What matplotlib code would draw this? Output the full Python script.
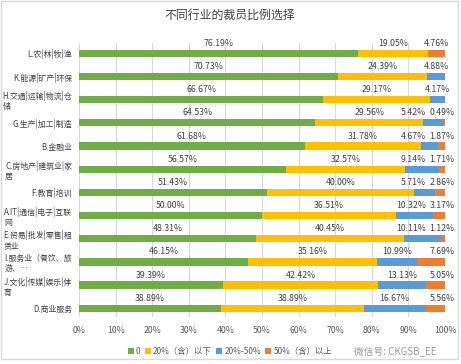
import matplotlib
matplotlib.use("Agg")
import matplotlib.pyplot as plt
from matplotlib.patches import Rectangle
import numpy as np

plt.rcParams['font.family'] = ['Noto Sans CJK SC', 'DejaVu Sans']

categories = ["L.农|林|牧|渔", "K.能源|矿产|环保", "H.交通|运输|物流|仓\n储", "G.生产|加工|制造",
              "B.金融业", "C.房地产|建筑业|家\n居", "F.教育|培训", "A.IT|通信|电子|互联\n网",
              "E.贸易|批发|零售|租\n赁业", "I.服务业（餐饮、旅\n游、…", "J.文化|传媒|娱乐|体\n育",
              "D.商业服务"]
s0 = [76.19, 70.73, 66.67, 64.53, 61.68, 56.57, 51.43, 50.00, 48.31, 46.15, 39.39, 38.89]
s1 = [19.05, 24.39, 29.17, 29.56, 31.78, 32.57, 40.00, 36.51, 40.45, 35.16, 42.42, 38.89]
s2 = [0.00, 4.88, 4.17, 5.42, 4.67, 9.14, 5.71, 10.32, 10.11, 10.99, 13.13, 16.67]
s3 = [4.76, 0.00, 0.00, 0.49, 1.87, 1.71, 2.86, 3.17, 1.12, 7.69, 5.05, 5.56]
series_names = ["0", "20%（含）以下", "20%-50%", "50%（含）以上"]
xticks = [0, 10, 20, 30, 40, 50, 60, 70, 80, 90, 100]

colors = ["#70AD47", "#FFC000", "#5B9BD5", "#ED7D31"]

W, H = 461, 364
fig = plt.figure(figsize=(W / 100, H / 100), dpi=100)
ax = fig.add_axes([79 / W, 1 - 316.7 / H, (445 - 79) / W, (316.7 - 42.7) / H])

data = [s0, s1, s2, s3]
y = np.arange(len(categories))
left = np.zeros(len(categories))
bh = 0.31
for vals, col, name in zip(data, colors, series_names):
    v = np.array(vals)
    ax.barh(y, v, left=left, height=bh, color=col, label=name, zorder=3)
    left = left + v

# labels
fs = 6.3
for i in range(len(categories)):
    vals = [d[i] for d in data]
    starts = np.cumsum([0] + vals[:-1])
    xs = [starts[k] + vals[k] / 2 for k in range(4)]
    # Excel-like nudging of the two small right-end labels
    if vals[3] > 0 and vals[2] > 0:
        xs[3] = 99.2
        w2 = 1.3 * len(f"{vals[2]:.2f}%")
        w3 = 1.3 * len(f"{vals[3]:.2f}%")
        xs[2] = min(xs[2], xs[3] - (w2 + w3) / 2 - 1.3)
    for k in range(4):
        if vals[k] > 0:
            ax.text(xs[k], y[i] - 0.43, f"{vals[k]:.2f}%", ha='center', va='center',
                    fontsize=fs, color='#404040', zorder=4)

ax.set_xlim(0, 100)
ax.set_ylim(11.364, -0.459)
ax.set_xticks(xticks)
ax.set_xticklabels([f"{t}%" for t in xticks], fontsize=fs, color='#595959')
ax.set_yticks(y)
ax.set_yticklabels(categories, fontsize=5.7, color='#404040', multialignment='left',
                   linespacing=1.15)
ax.tick_params(axis='both', length=0)
ax.tick_params(axis='x', pad=7)
ax.tick_params(axis='y', pad=5)
ax.grid(axis='x', color='#D9D9D9', linewidth=0.8, zorder=0)
for sp in ax.spines.values():
    sp.set_visible(False)

fig.text(230 / W, 1 - 15 / H, "不同行业的裁员比例选择", ha='center', va='center',
         fontsize=8.6, color='#404040')

leg = fig.legend(loc='center', bbox_to_anchor=(230 / W, 1 - 351.5 / H), ncol=4, frameon=False,
                 fontsize=6.0, handlelength=0.7, handleheight=0.7, handletextpad=0.3,
                 columnspacing=0.5, labelcolor='#595959')

fig.text(395 / W, 1 - 351.5 / H, "微信号: CKGSB_EE", ha='center', va='center',
         fontsize=7, color='#9a9a9a')

fig.patches.append(Rectangle((0.6 / W, 1 - 359 / H), 457 / W, 358 / H, transform=fig.transFigure,
                             fill=False, edgecolor='#D9D9D9', linewidth=1.0))

fig.savefig("out.png", dpi=100)
